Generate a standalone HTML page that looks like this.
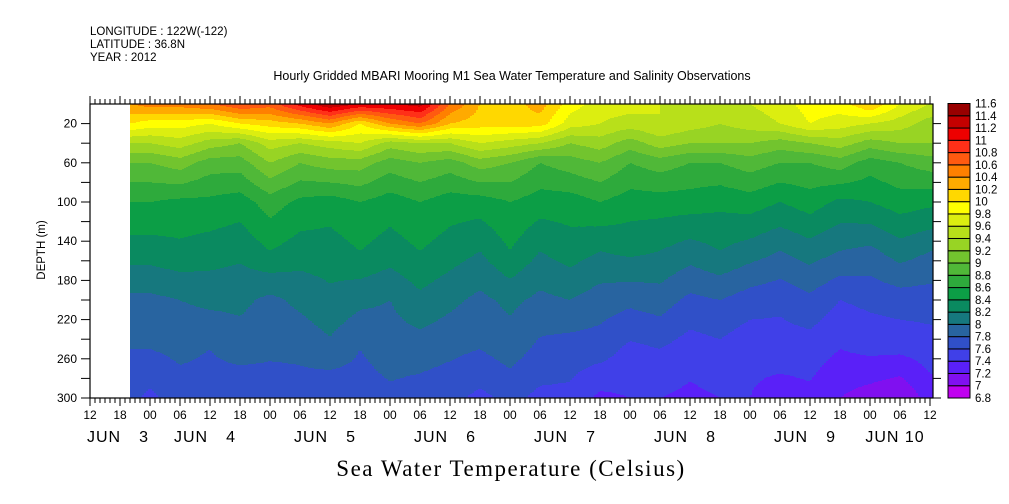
<!DOCTYPE html>
<html><head><meta charset="utf-8"><style>
body{margin:0;background:#fff;}
svg{display:block;font-family:"Liberation Sans",sans-serif;}
</style></head><body>
<svg id="chart" width="1009" height="504" viewBox="0 0 1009 504" xmlns="http://www.w3.org/2000/svg">
<g font-size="11.5" fill="#000">
<text x="90" y="35">LONGITUDE : 122W(-122)</text>
<text x="90" y="48">LATITUDE : 36.8N</text>
<text x="90" y="61">YEAR : 2012</text>
</g>
<text x="512" y="80" text-anchor="middle" font-size="12.5">Hourly Gridded MBARI Mooring M1 Sea Water Temperature and Salinity Observations</text>
<g id="field"></g>
<g id="axes"></g>
<g id="cbar"></g>
<text x="45" y="250" transform="rotate(-90 45 250)" text-anchor="middle" font-size="11.5">DEPTH (m)</text>
<text x="511" y="476" text-anchor="middle" font-family="Liberation Serif, serif" font-size="23" letter-spacing="1.5">Sea Water Temperature (Celsius)</text>
</svg>
<script>
// ---- data ----
const hours = [8,12,18,24,30,36,42,48,54,60,66,72,78,84,90,96,102,108,114,120,126,132,138,144,150,156,162,168];
const depths = [0,20,40,60,100,150,200,250,300];
const t0   = [10.4,10.5,10.5,10.6,10.8,10.7,11.1,11.4,11.2,11.2,11.3,10.6,10.2,10.1,10.3,9.9,9.7,9.7,9.6,9.6,9.6,9.6,9.7,9.9,9.9,10.2,9.8,9.6];
const t20  = [10.0,9.9,9.9,9.8,10.0,10.1,10.2,10.4,10.0,10.4,10.6,10.2,10.1,10.1,10.1,9.7,9.6,9.5,9.6,9.5,9.4,9.5,9.6,9.8,9.7,9.6,9.5,9.3];
const t40  = [9.4,9.4,9.5,9.3,9.2,9.5,9.4,9.5,9.6,9.3,9.4,9.4,9.6,9.5,9.4,9.2,9.3,9.1,9.3,9.2,9.2,9.2,9.1,9.2,9.3,9.1,9.2,9.2];
const t60  = [9.0,9.0,9.1,8.9,8.9,9.2,9.0,9.1,9.1,8.9,9.0,8.9,9.1,9.0,8.8,8.9,9.0,8.8,8.9,8.8,8.8,8.9,8.8,8.8,8.9,8.7,8.8,8.9];
const t100 = [8.6,8.6,8.55,8.55,8.5,8.7,8.55,8.5,8.6,8.5,8.6,8.5,8.5,8.6,8.5,8.5,8.6,8.5,8.5,8.5,8.45,8.5,8.4,8.5,8.35,8.4,8.5,8.45];
const t150 = [8.3,8.3,8.35,8.3,8.25,8.4,8.3,8.3,8.4,8.3,8.4,8.3,8.2,8.4,8.2,8.3,8.2,8.25,8.2,8.1,8.2,8.1,8.0,8.1,8.0,7.95,8.1,8.0];
const t200 = [7.95,7.95,8.0,8.05,8.05,7.95,8.05,8.15,8.05,8.0,8.15,8.05,7.95,8.05,7.95,8.0,7.9,7.85,7.9,7.75,7.8,7.7,7.65,7.75,7.6,7.65,7.7,7.7];
const t250 = [7.8,7.8,7.85,7.8,7.9,7.85,7.85,7.95,7.8,7.9,7.9,7.85,7.8,7.9,7.75,7.7,7.7,7.55,7.6,7.5,7.55,7.45,7.5,7.5,7.4,7.45,7.45,7.5];
const t300 = [7.65,7.55,7.7,7.7,7.6,7.65,7.7,7.6,7.7,7.75,7.7,7.65,7.55,7.65,7.55,7.55,7.35,7.4,7.4,7.35,7.4,7.4,7.3,7.35,7.2,7.1,7.0,7.3];
const levels = [6.8,7,7.2,7.4,7.6,7.8,8,8.2,8.4,8.6,8.8,9,9.2,9.4,9.6,9.8,10,10.2,10.4,10.6,10.8,11,11.2,11.4,11.6];
const levelColors = ["#c000f0","#8010f0","#5a20f8","#4040e8","#3050c8","#2864a0","#16787e","#0a8a60","#0c9e46","#2eaa3c","#50b838","#72c42e","#98d424","#b8e01a","#dcee10","#ffff00","#ffd800","#ffaa00","#ff8000","#ff5a10","#ff3018","#ee0000","#c40000","#980000"];
const tickHours = ["12","18","00","06"];
const dayLabels = ["JUN  3","JUN  4","JUN  5","JUN  6","JUN  7","JUN  8","JUN  9","JUN 10"];
const dayLabelHours = [5.6,23,47,71,95,119,143,161];
const depthTicks = [20,60,100,140,180,220,260,300];
// ---- scales ----
const X0=90, X1=933, Y0=104, Y1=398, HMAX=168.6, DMAX=300;
const xs = h => X0 + h*(X1-X0)/HMAX;
const ys = d => Y0 + d*(Y1-Y0)/DMAX;
const NS="http://www.w3.org/2000/svg";
function mk(tag, attrs, parent){const e=document.createElementNS(NS,tag);for(const k in attrs)e.setAttribute(k,attrs[k]);parent.appendChild(e);return e;}
const prof=[t0,t20,t40,t60,t100,t150,t200,t250,t300];
function val(h,d){
  let i=0; while(i<hours.length-2 && h>hours[i+1]) i++;
  let fx=(h-hours[i])/(hours[i+1]-hours[i]); fx=Math.max(0,Math.min(1,fx));
  let j=0; while(j<depths.length-2 && d>depths[j+1]) j++;
  let fy=(d-depths[j])/(depths[j+1]-depths[j]); fy=Math.max(0,Math.min(1,fy));
  const a=prof[j][i]*(1-fx)+prof[j][i+1]*fx, b=prof[j+1][i]*(1-fx)+prof[j+1][i+1]*fx;
  return a*(1-fy)+b*fy;
}
function colorIdx(v){let k=0;while(k<levelColors.length-1 && v>=levels[k+1])k++;return k;}
const field=document.getElementById('field');
const xa=xs(hours[0]), xb=X1;
for(let px=xa; px<xb; px+=2){
  const h=(px+1-X0)*HMAX/(X1-X0);
  let start=Y0, cur=null;
  for(let py=Y0; py<=Y1; py+=1){
    const c = py<Y1 ? colorIdx(val(h,(py+0.5-Y0)*DMAX/(Y1-Y0))) : -1;
    if(cur===null){cur=c;start=py;continue;}
    if(c!==cur){
      const r=mk('rect',{x:px,y:start,width:Math.min(2,xb-px)+0.3,height:py-start+0.3,fill:levelColors[cur]},field);
      
      
      cur=c;start=py;
    }
  }
}
// axes
const ax=document.getElementById('axes');
mk('rect',{x:X0,y:Y0,width:X1-X0,height:Y1-Y0,fill:'none',stroke:'#000','stroke-width':1.2},ax);
for(let h=0; h<=168; h++){
  const x=xs(h), major=(h%6===0);
  const len=major?8:5;
  mk('line',{x1:x,y1:Y1,x2:x,y2:Y1+len,stroke:'#000','stroke-width':1},ax);
  mk('line',{x1:x,y1:Y0,x2:x,y2:Y0-len,stroke:'#000','stroke-width':1},ax);
  if(major){
    const t=mk('text',{x:x,y:Y1+21,'text-anchor':'middle','font-size':12},ax);
    t.textContent=tickHours[(h/6)%4];
    
    
  }
}
dayLabels.forEach((s,i)=>{
  const t=mk('text',{x:xs(dayLabelHours[i]),y:Y1+44,'text-anchor':'middle','font-size':16,'letter-spacing':1},ax);
  t.textContent=s.replace('  ','\u2002\u2002');
  
  
});
for(let d=20; d<=300; d+=20){
  const y=ys(d);
  mk('line',{x1:X0,y1:y,x2:X0-9,y2:y,stroke:'#000','stroke-width':1},ax);
  mk('line',{x1:X1,y1:y,x2:X1+8,y2:y,stroke:'#000','stroke-width':1},ax);
}
depthTicks.forEach(d=>{
  const t=mk('text',{x:X0-13,y:ys(d)+4,'text-anchor':'end','font-size':12},ax);
  t.textContent=String(d);
  
  
});
// colorbar
const cb=document.getElementById('cbar');
const CX=948, CW=22, CY0=103.5, CY1=398;
const n=levelColors.length, bh=(CY1-CY0)/n;
levelColors.forEach((c,i)=>{
  const y=CY1-(i+1)*bh;
  const r=mk('rect',{x:CX,y:y,width:CW,height:bh,fill:c,stroke:'#000','stroke-width':1},cb);
  
  
});
levels.forEach((v,i)=>{
  const t=mk('text',{x:CX+CW+5,y:CY1-i*bh+4,'font-size':11.5},cb);
  t.textContent=String(v);
  
  
});
</script>
</body></html>
